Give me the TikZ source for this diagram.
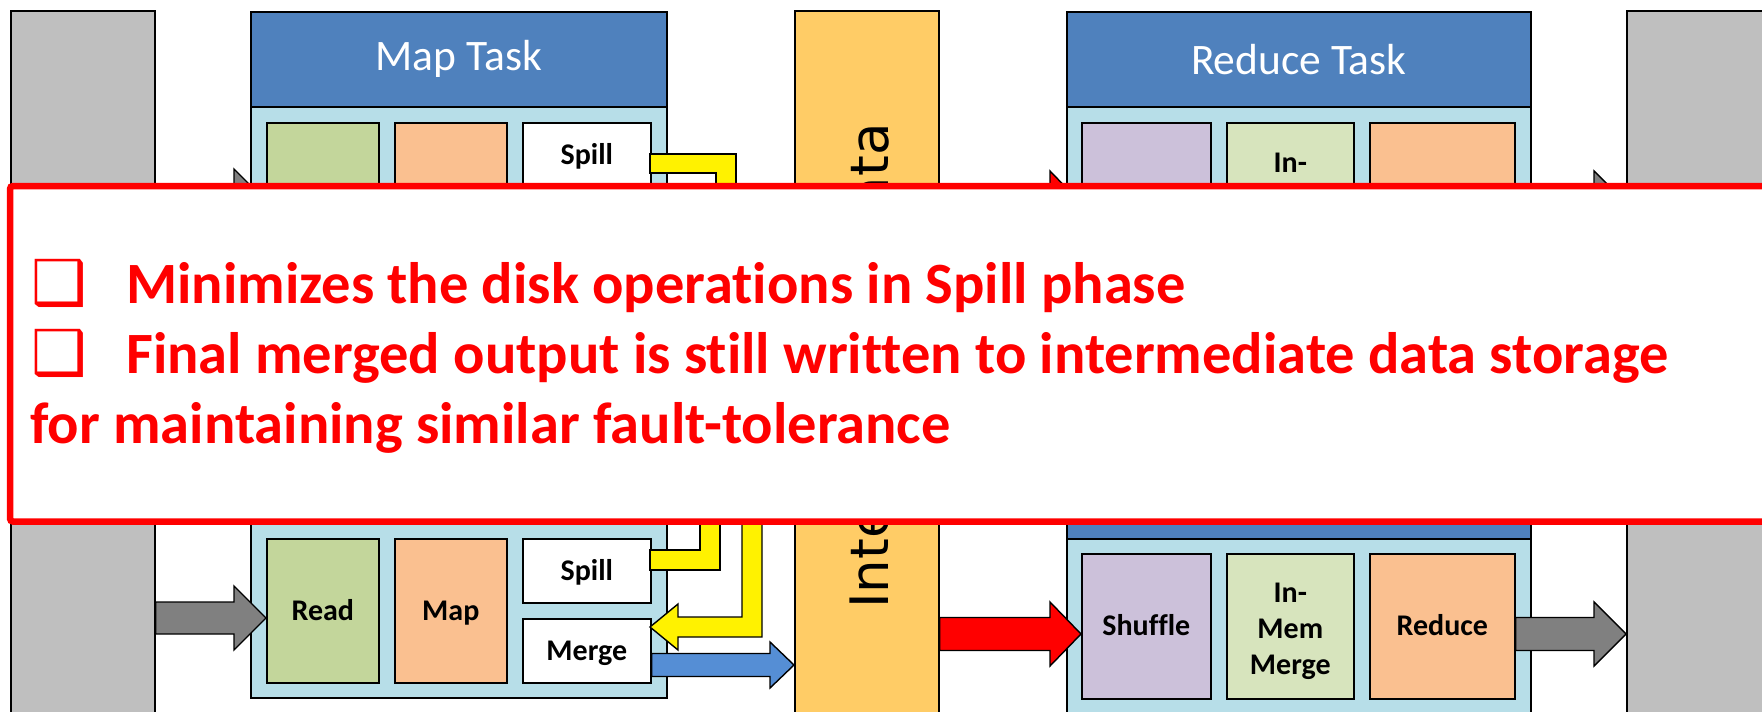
\documentclass[tikz,border=0pt]{standalone}
\usepackage{fontspec}
\usetikzlibrary{calc}
\newfontfamily\calibri{Carlito}[Ligatures=NoCommon]
\newfontfamily\dejavu{DejaVu Sans}

\definecolor{grayblock}{HTML}{BFBFBF}
\definecolor{headblue}{HTML}{4F81BD}
\definecolor{bodyblue}{HTML}{B7DEE8}
\definecolor{readgreen}{HTML}{C3D69B}
\definecolor{mapor}{HTML}{FAC090}
\definecolor{interor}{HTML}{FFCC66}
\definecolor{shufpurp}{HTML}{CCC1DA}
\definecolor{memgreen}{HTML}{D7E4BD}
\definecolor{arrgray}{HTML}{808080}
\definecolor{arrblue}{HTML}{558ED5}

% rectangular block: name, x, y (top left), width, height, style, text
\newcommand\blkat[7]{\node[blk,#6,minimum width=#4pt,minimum height=#5pt] (#1) at (#2,#3) {#7};}
% horizontal block arrow: fill, start, tip, shaft half width, head half width, head length
\newcommand\fatarrow[6]{%
  \filldraw[fatline, fill=#1] ($(#2)+(0,-#4)$) -- ($(#3)+(-#6,-#4)$) -- ($(#3)+(-#6,-#5)$) -- (#3)
    -- ($(#3)+(-#6,#5)$) -- ($(#3)+(-#6,#4)$) -- ($(#2)+(0,#4)$) -- cycle;}

\begin{document}
\begin{tikzpicture}[x=1pt,y=-1pt,
  blk/.style={draw=black, line width=1.6pt, inner sep=0pt, anchor=north west},
  lbl/.style={font=\calibri\bfseries\fontsize{30}{36}\selectfont, align=center, text=black},
  one/.style={lbl, text height=19.3pt, text depth=0pt},
  head/.style={fill=headblue, text=white, font=\calibri\fontsize{43.5}{50}\selectfont},
  fatline/.style={draw=black, line width=1.4pt, line join=miter},
  note/.style={font=\calibri\bfseries\fontsize{58.5}{70}\selectfont, text=red, inner sep=0pt, anchor=base west},
  bul/.style={font=\dejavu\fontsize{62}{62}\selectfont, text=red, inner sep=0pt, anchor=base west},
]
\useasboundingbox (0,0) rectangle (1762,712);
\clip (0,0) rectangle (1762,712);

% storage columns
\blkat{lgray}{10}{10}{144}{730}{fill=grayblock}{}
\blkat{rgray}{1626}{10}{200}{730}{fill=grayblock}{}
\blkat{inter}{794}{10}{144}{730}{fill=interor}{}
\node[font=\dejavu\fontsize{53}{60}\selectfont, rotate=90, anchor=base, inner sep=0pt] (interlbl) at (888,366) {Intermediate Data};

% upper map task
\blkat{mapHA}{250}{11}{416}{95}{head}{Map Task}
\blkat{mapBA}{250}{106}{416}{175}{fill=bodyblue}{}
\blkat{readA}{266}{122}{112}{144}{fill=readgreen}{}
\blkat{mapA}{394}{122}{112}{144}{fill=mapor}{}
\blkat{spillA}{522}{122}{128}{64}{fill=white,one}{Spill}

% lower map task
\blkat{mapBB}{250}{522}{416}{175}{fill=bodyblue}{}
\blkat{readB}{266}{538}{112}{144}{fill=readgreen,one}{Read}
\blkat{mapB}{394}{538}{112}{144}{fill=mapor,one}{Map}
\blkat{spillB}{522}{538}{128}{64}{fill=white,one}{Spill}
\blkat{mergeB}{522}{618}{128}{64}{fill=white,one}{Merge}

% upper reduce task
\blkat{redHA}{1066}{11}{464}{95}{head}{Reduce Task}
\blkat{redBA}{1066}{106}{464}{176}{fill=bodyblue}{}
\blkat{shufA}{1081}{122}{129}{145}{fill=shufpurp}{}
\blkat{memA}{1226}{122}{127}{145}{fill=memgreen}{}
\node[lbl] (memAtxt) at ($(memA.center)+(0,6)$) {In-\\Mem\\Merge};
\blkat{redA}{1369}{122}{145}{145}{fill=mapor}{}

% lower reduce task
\blkat{redHB}{1066}{442}{464}{96}{fill=headblue}{}
\blkat{redBB}{1066}{538}{464}{190}{fill=bodyblue}{}
\blkat{shufB}{1081}{553}{129}{145}{fill=shufpurp,one}{Shuffle}
\blkat{memB}{1226}{553}{127}{145}{fill=memgreen}{}
\node[lbl] (memBtxt) at ($(memB.center)+(0,5)$) {In-\\Mem\\Merge};
\blkat{redB}{1369}{553}{145}{145}{fill=mapor,one}{Reduce}

% arrow levels
\coordinate (yA) at (0,201);
\coordinate (yB) at (0,618);
\coordinate (yRA) at (0,203);
\coordinate (yRB) at (0,634);
\coordinate (yM) at (0,665);

% block arrows
\fatarrow{arrgray}{lgray.east |- yA}{readA.west |- yA}{16}{32}{32}
\fatarrow{arrgray}{lgray.east |- yB}{readB.west |- yB}{16}{32}{32}
\fatarrow{arrblue}{mergeB.east |- yM}{inter.west |- yM}{11.5}{23}{24}
\fatarrow{red}{inter.east |- yRA}{shufA.west |- yRA}{16.5}{32}{31}
\fatarrow{red}{inter.east |- yRB}{shufB.west |- yRB}{16.5}{32}{31}
\fatarrow{arrgray}{redA.east |- yRA}{rgray.west |- yRA}{16.5}{32}{32}
\fatarrow{arrgray}{redB.east |- yRB}{rgray.west |- yRB}{16.5}{32}{32}

% spill routes (yellow)
\filldraw[fatline, fill=yellow] (650,154) -- (736,154) -- (736,330) -- (716,330) -- (716,173) -- (650,173) -- cycle;
\filldraw[fatline, fill=yellow] (650,550) -- (700,550) -- (700,380) -- (720,380) -- (720,570) -- (650,570) -- cycle;
\filldraw[fatline, fill=yellow] (742,300) -- (742,617) -- (678,617) -- (678,604) -- (650,627) -- (678,650) -- (678,637) -- (762,637) -- (762,300) -- cycle;

% callout
\draw[draw=red, line width=6.5pt, fill=white, rounded corners=3pt] (10,186) rectangle (1800,521.5);
\node[bul] (b1) at (31,304) {❑};
\node[bul] (b2) at (31,374) {❑};
\node[note] (l1) at (126,303) {Minimizes the disk operations in Spill phase};
\node[note] (l2) at (126,373) {Final merged output is still written to intermediate data storage};
\node[note] (l3) at (30,443) {for maintaining similar fault-tolerance};
\end{tikzpicture}
\end{document}
